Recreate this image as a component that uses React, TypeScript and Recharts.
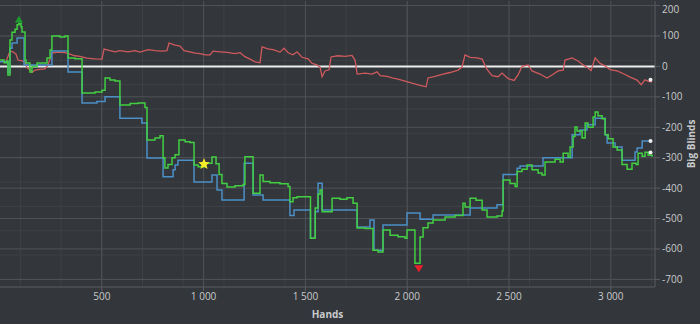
import {
  LineChart,
  Line,
  XAxis,
  YAxis,
  CartesianGrid,
  ReferenceLine,
  ReferenceDot,
} from "recharts";

// hands / big blinds (stepped lines)
const greenHands = [
  0, 20, 34, 39, 49, 59, 74, 84, 93, 103, 108, 123, 128, 147, 157, 182, 231, 246, 255, 295,
  319, 334, 368, 403, 467, 501, 516, 540, 565, 589, 639, 678, 712, 722, 761, 786, 801, 810,
  825, 845, 860, 879, 909, 933, 953, 973, 1007, 1041, 1061, 1076, 1090, 1115, 1154, 1194,
  1203, 1243, 1277, 1292, 1326, 1375, 1415, 1424, 1439, 1459, 1525, 1548, 1562, 1572, 1582,
  1631, 1670, 1704, 1734, 1754, 1793, 1832, 1857, 1881, 1916, 1955, 1989, 1999, 2038, 2063,
  2078, 2102, 2127, 2186, 2235, 2274, 2284, 2309, 2338, 2368, 2392, 2441, 2466, 2471, 2505,
  2530, 2540, 2564, 2589, 2613, 2643, 2662, 2677, 2726, 2751, 2766, 2790, 2800, 2815, 2824,
  2834, 2859, 2874, 2888, 2913, 2923, 2937, 2957, 2972, 2987, 3011, 3031, 3055, 3080, 3104,
  3124, 3134, 3154, 3168, 3183, 3203,
];
const greenBB = [
  21, 12, 18, -28, 87, 112, 122, 137, 140, 130, 113, 21, 11, -18, 0, 11, 28, 54, 100, 97,
  100, 28, 25, -87, -84, -78, -38, -45, -48, -127, -122, -120, -135, -242, -235, -228, -300,
  -334, -322, -300, -290, -242, -248, -250, -324, -330, -318, -298, -320, -355, -385, -396,
  -392, -388, -297, -417, -357, -378, -382, -386, -395, -445, -432, -428, -565, -465, -420,
  -406, -478, -433, -437, -432, -450, -531, -533, -604, -610, -538, -555, -560, -565, -538,
  -647, -561, -530, -515, -505, -495, -490, -450, -462, -433, -440, -472, -495, -492, -475,
  -373, -385, -395, -345, -338, -324, -340, -350, -357, -314, -305, -314, -285, -298, -265,
  -230, -199, -212, -235, -186, -200, -166, -150, -162, -172, -225, -238, -265, -275, -322,
  -338, -318, -322, -285, -295, -282, -292, -297,
];

const blueHands = [
  0, 39, 49, 59, 84, 118, 255, 334, 403, 476, 516, 589, 697, 722, 801, 850, 860, 874, 953,
  1041, 1066, 1090, 1199, 1243, 1292, 1424, 1444, 1525, 1548, 1562, 1582, 1754, 1817, 1837,
  1881, 1999, 2063, 2127, 2309, 2441, 2471, 2540, 2554, 2667, 2810, 2849, 2883, 2923, 2972,
  2982, 3021, 3055, 3119, 3129, 3154, 3203,
];
const blueBB = [
  15, -20, 60, 77, 93, 5, 51, -18, -120, -115, -100, -170, -186, -301, -363, -340, -324,
  -308, -380, -357, -406, -439, -318, -423, -439, -490, -472, -565, -478, -384, -472, -528,
  -505, -604, -521, -482, -502, -488, -465, -455, -355, -335, -327, -300, -225, -209, -192,
  -170, -225, -252, -265, -308, -281, -268, -245, -245,
];

const redHands = [
  10, 29, 49, 64, 79, 88, 108, 123, 133, 147, 157, 172, 196, 221, 236, 255, 285, 319, 344,
  368, 393, 427, 467, 501, 511, 540, 565, 589, 629, 663, 688, 727, 761, 796, 820, 830, 860,
  884, 904, 933, 958, 982, 1007, 1032, 1046, 1081, 1115, 1154, 1179, 1203, 1228, 1253, 1277,
  1287, 1316, 1341, 1375, 1395, 1415, 1439, 1459, 1483, 1513, 1533, 1557, 1572, 1582, 1596,
  1616, 1626, 1660, 1695, 1729, 1744, 1754, 1793, 1827, 1852, 1867, 1901, 1926, 1955, 1989,
  2024, 2063, 2093, 2102, 2137, 2176, 2210, 2250, 2269, 2284, 2309, 2343, 2368, 2392, 2417,
  2446, 2466, 2495, 2525, 2544, 2564, 2594, 2613, 2652, 2687, 2711, 2741, 2766, 2775, 2810,
  2839, 2864, 2888, 2903, 2923, 2947, 2972, 2996, 3031, 3065, 3095, 3129, 3149, 3168, 3183,
  3203,
];
const redBB = [
  20, 15, 50, 48, 40, 21, 18, 15, -5, -11, -20, -12, -10, -8, 5, 44, 47, 45, 40, 35, 33, 27,
  25, 24, 57, 52, 48, 52, 48, 52, 47, 55, 52, 50, 52, 77, 70, 67, 52, 48, 44, 42, 38, 38, 50,
  48, 46, 42, 45, 32, 24, 15, 12, 64, 58, 55, 47, 60, 45, 38, 48, 30, 25, 10, 5, -2, -34,
  -15, -11, 31, 35, 33, 36, 20, -25, -22, -25, -18, -30, -33, -38, -42, -48, -55, -62, -67,
  -38, -33, -25, -20, -12, -2, 38, 30, 28, 24, -10, -30, -34, -22, -40, -46, -28, 0, 5, -15,
  -25, -38, -28, -15, -12, 21, 28, 18, 5, -5, -14, 28, 10, 2, -11, -15, -25, -35, -45, -60,
  -44, -48, -52,
];

const xTicks = [500, 1000, 1500, 2000, 2500, 3000];
const yTicks = [-700, -600, -500, -400, -300, -200, -100, 0, 100, 200];

const toRows = (h: number[], v: number[]) => h.map((hand, i) => ({ hand, bb: v[i] }));
const green = toRows(greenHands, greenBB);
const blue = toRows(blueHands, blueBB);
const red = toRows(redHands, redBB);

const minorX: number[] = [];
for (let h = 0; h <= 3200; h += 100) minorX.push(h);
const minorY: number[] = [];
for (let b = -720; b <= 200; b += 20) minorY.push(b);

const fmt = (n: number) => String(n).replace(/\B(?=(\d{3})+(?!\d))/g, " ");

const BG = "#33363a";
const TXT = "#c9cbcd";
const FONT = "'Open Sans', 'DejaVu Sans', sans-serif";

function star(cx: number, cy: number, r: number) {
  const pts = [];
  for (let i = 0; i < 10; i++) {
    const rr = i % 2 === 0 ? r : r * 0.45;
    const a = -Math.PI / 2 + (i * Math.PI) / 5;
    pts.push(`${cx + rr * Math.cos(a)},${cy + rr * Math.sin(a)}`);
  }
  return pts.join(" ");
}

function YTick(props: any) {
  const { y, payload } = props;
  return (
    <text
      x={662}
      y={Math.max(y, 7)}
      dy="0.35em"
      textAnchor="start"
      fill={TXT}
      fontSize={10}
      fontFamily={FONT}
    >
      {fmt(payload.value)}
    </text>
  );
}

export default function App() {
  return (
    <div style={{ position: "fixed", left: 0, top: 0, width: 700, height: 324, background: BG }}>
      <LineChart
        width={700}
        height={324}
        margin={{ top: 1, right: 0, left: 0, bottom: 0 }}
        style={{ fontFamily: FONT }}
      >
        <CartesianGrid
          stroke="#3e4145"
          horizontalValues={minorY}
          verticalValues={minorX}
        />
        <CartesianGrid
          stroke="#505357"
          horizontalValues={yTicks}
          verticalValues={[0, ...xTicks]}
        />
        <XAxis
          dataKey="hand"
          type="number"
          domain={[0, 3217]}
          ticks={xTicks}
          allowDataOverflow
          tickFormatter={fmt}
          height={37}
          stroke="#5a5d61"
          tickSize={4}
          tick={{ fill: TXT, fontSize: 10 }}
          label={{
            value: "Hands",
            position: "insideBottom",
            offset: 6,
            fill: TXT,
            fontSize: 10,
            fontWeight: "bold",
          }}
        />
        <YAxis
          orientation="right"
          type="number"
          domain={[-725, 215]}
          ticks={yTicks}
          allowDataOverflow
          width={45}
          stroke="#5a5d61"
          tickSize={5}
          tick={YTick}
          label={{
            content: () => (
              <text
                x={691}
                y={144}
                transform="rotate(-90 691 144)"
                textAnchor="middle"
                dominantBaseline="central"
                fill={TXT}
                fontSize={10}
                fontWeight="bold"
              >
                Big Blinds
              </text>
            ),
          }}
        />
        <ReferenceLine y={0} stroke="#eeeeee" strokeWidth={2} />
        <Line
          data={red}
          dataKey="bb"
          type="linear"
          stroke="#cf5a5e"
          strokeWidth={1.3}
          dot={false}
          isAnimationActive={false}
        />
        <Line
          data={blue}
          dataKey="bb"
          type="stepAfter"
          stroke="#4b90c8"
          strokeWidth={1.5}
          dot={false}
          isAnimationActive={false}
        />
        <Line
          data={green}
          dataKey="bb"
          type="stepAfter"
          stroke="#42cf42"
          strokeWidth={1.5}
          dot={false}
          isAnimationActive={false}
        />
        <ReferenceDot
          x={93}
          y={140}
          r={4}
          shape={(p: any) => (
            <polygon
              points={`${p.cx},${p.cy - 8} ${p.cx - 4},${p.cy - 1} ${p.cx + 4},${p.cy - 1}`}
              fill="#1f9a30"
            />
          )}
        />
        <ReferenceDot
          x={1002}
          y={-321}
          r={4}
          shape={(p: any) => <polygon points={star(p.cx, p.cy, 6)} fill="#f5ec2a" />}
        />
        <ReferenceDot
          x={2057}
          y={-647}
          r={4}
          shape={(p: any) => (
            <polygon
              points={`${p.cx - 4.5},${p.cy + 2} ${p.cx + 4.5},${p.cy + 2} ${p.cx},${p.cy + 9}`}
              fill="#e8202a"
            />
          )}
        />
        <ReferenceDot x={3195} y={-245} r={2} fill="#eeeeee" stroke="none" />
        <ReferenceDot x={3195} y={-283} r={2} fill="#eeeeee" stroke="none" />
        <ReferenceDot x={3195} y={-44} r={2} fill="#eeeeee" stroke="none" />
      </LineChart>
    </div>
  );
}
